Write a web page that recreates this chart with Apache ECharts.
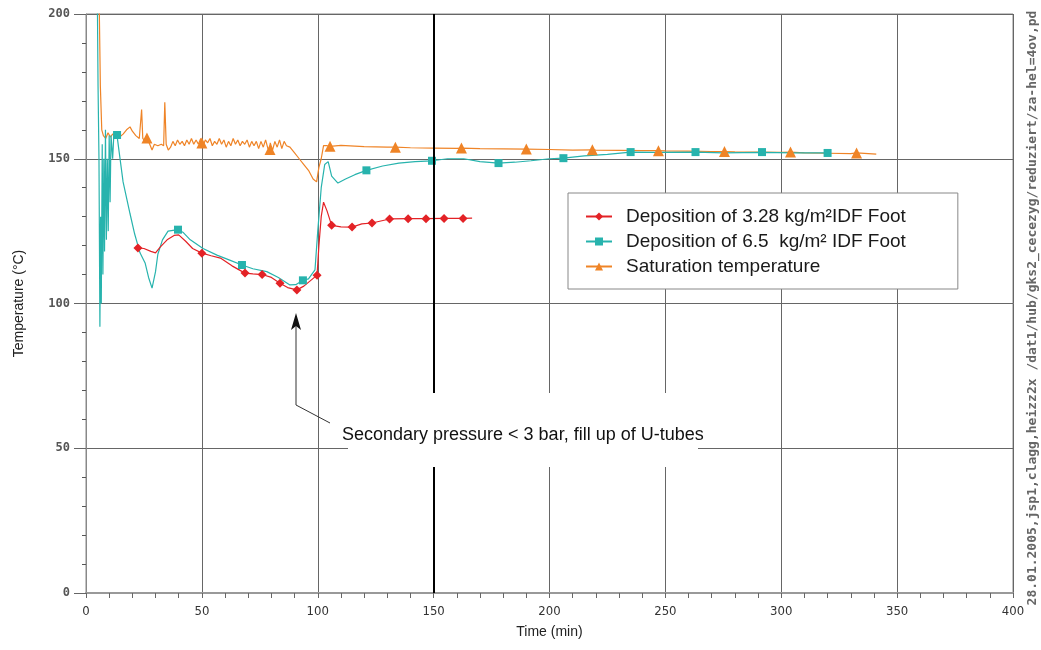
<!DOCTYPE html>
<html>
<head>
<meta charset="utf-8">
<script src="https://cdn.jsdelivr.net/npm/echarts@6/dist/echarts.min.js"></script>
<style>
  html, body { margin: 0; background: #fff; }
  #main { width: 1041px; height: 650px; }
</style>
</head>
<body>
<div id="main"></div>
<script>
// axis ticks
const xTicks = [0, 50, 100, 150, 200, 250, 300, 350, 400];
const yTicks = [0, 50, 100, 150, 200];

// Saturation temperature: line points [min, °C] and marker points
const satLine = [
  [5.5, 215], [6.2, 175], [6.8, 160], [7.5, 158], [8.5, 157], [9.5, 159], [10.5, 157.5], [11.5, 158.5],
  [13, 158], [14.5, 157.5], [16, 158.5], [17.5, 160], [19, 161], [20, 159.5], [21.5, 158], [23, 157],
  [24, 167], [24.5, 157], [25.5, 156], [26.5, 157.5], [27.5, 155], [28.5, 153], [29.5, 155], [31, 154.5],
  [32.5, 155], [33.5, 154.5], [34, 169.5], [34.6, 155], [35.5, 153], [36.5, 154], [37.5, 156], [38.5, 154.5],
  [39.5, 156.5], [40.5, 155], [41.5, 156], [42.5, 154.5], [43.5, 156.5], [44.5, 155], [45.5, 157], [46.5, 155],
  [47.5, 156.5], [48.5, 155], [49.5, 157], [50.5, 154.5], [51.5, 156.5], [52.5, 155.5], [53.5, 157],
  [54.5, 154.5], [55.5, 156], [56.5, 155], [57.5, 157], [58.5, 155], [59.5, 156.5], [60.5, 154],
  [61.5, 156], [62.5, 154.5], [63.5, 157], [64.5, 155], [65.5, 156.5], [66.5, 154.5], [67.5, 156],
  [68.5, 155], [69.5, 156.5], [70.5, 154], [71.5, 156], [72.5, 154.5], [73.5, 156], [74.5, 153.5],
  [75.5, 156], [76.5, 154], [77.5, 156.5], [78.5, 153.5], [79.5, 155.5], [80.5, 153], [81.5, 156],
  [82.5, 154], [83.5, 156.5], [84.5, 153.5], [85.5, 156], [86.5, 154.5], [88, 154],
  [90, 152], [92, 150], [94, 148], [96, 146], [98, 143], [99.5, 142], [100.5, 147], [101.5, 150],
  [102.5, 154.5], [104, 154.5], [110, 154.6], [120, 154.2], [130, 154], [140, 153.8], [150, 153.7],
  [160, 153.6], [170, 153.5], [180, 153.4], [190, 153.3], [200, 153.2], [210, 153], [220, 153],
  [230, 152.9], [240, 152.8], [250, 152.7], [260, 152.6], [270, 152.5], [280, 152.4], [290, 152.3],
  [300, 152.2], [310, 152], [320, 151.9], [330, 151.8], [341, 151.6]
];
const satMarks = [
  [26.3, 157.2], [50, 155.4], [79.4, 153.2], [105.3, 154.3], [133.5, 154], [162, 153.7], [190, 153.4],
  [218.5, 153.1], [247, 152.8], [275.5, 152.5], [304, 152.3], [332.5, 152]
];

// Deposition of 6.5 kg/m2
const tealLine = [
  [4.8, 215], [5.2, 175], [5.6, 150], [6.0, 92], [6.3, 130], [6.6, 100], [7.0, 155], [7.3, 110],
  [7.7, 150], [8.0, 118], [8.4, 160], [8.8, 122], [9.2, 150], [9.6, 125], [10.0, 158], [10.4, 135],
  [10.8, 158], [11.5, 150], [12, 158], [13.4, 158], [14.2, 153], [16, 142], [19, 131], [21, 124],
  [23.3, 117.5], [25.5, 114], [27, 109], [28.5, 105.3], [30, 111], [31, 117], [33, 122], [35.4, 125],
  [39.7, 125.5], [42, 124.5], [45, 122], [50.5, 119], [56.5, 116.7], [62, 115], [67.3, 113.3],
  [72, 112], [78, 111], [83, 109], [88, 106.4], [90.5, 106.5], [93.6, 108], [96, 108.5], [98.8, 111.6],
  [100, 125], [101.5, 140], [103, 148], [104.5, 149], [106, 144], [108.7, 141.6], [112, 143],
  [116, 144.5], [121, 146], [128, 147.5], [135, 148.5], [142, 149], [149.3, 149.3], [156, 150],
  [163, 150], [170, 149], [178, 148.5], [185, 148.8], [192, 149.3], [200, 150], [206, 150.2],
  [215, 151], [225, 151.5], [235, 152.3], [245, 152.2], [263, 152.3], [275, 152], [291.7, 152.2],
  [305, 152], [320, 152]
];
const tealMarks = [
  [13.4, 158.2], [39.7, 125.5], [67.3, 113.3], [93.6, 108], [121, 146], [149.3, 149.3], [178, 148.5],
  [206, 150.2], [235, 152.3], [263, 152.3], [291.7, 152.3], [320, 152]
];

// Deposition of 3.28 kg/m2
const redLine = [
  [22.4, 119.2], [25, 119], [28, 118], [30, 117.5], [32, 119.5], [35, 122], [38, 123.5], [40, 123.7],
  [43, 121.5], [46, 119], [50, 117.4], [54, 116.5], [58, 115.7], [63, 113], [68.6, 110.5], [72, 110.2],
  [76, 110], [80, 109], [83.7, 107], [87, 105.5], [91, 104.7], [94, 106], [97, 108], [99.7, 109.8],
  [100.5, 120], [101.5, 130], [102.5, 135], [104, 132], [106, 127], [110, 126.5], [114.8, 126.4],
  [119, 127.5], [123.4, 127.8], [131, 129.2], [139, 129.3], [146.7, 129.3], [154.5, 129.4],
  [162.7, 129.4], [166.6, 129.5]
];
const redMarks = [
  [22.4, 119.2], [50, 117.4], [68.6, 110.5], [76, 110], [83.7, 107], [91, 104.7], [99.7, 109.8],
  [106, 127], [114.8, 126.4], [123.4, 127.8], [131, 129.2], [139, 129.3], [146.7, 129.3],
  [154.5, 129.4], [162.7, 129.4]
];

const seriesNames = [
  'Deposition of 3.28 kg/m²IDF Foot',
  'Deposition of 6.5  kg/m² IDF Foot',
  'Saturation temperature'
];

// merge line points and marker points, marker points get a symbol
function buildData(line, marks, shape) {
  const pts = line.map(p => ({ value: p, symbol: 'none' }))
    .concat(marks.map(p => ({ value: p, symbol: shape })));
  pts.sort((a, b) => a.value[0] - b.value[0]);
  return pts;
}

function lineSeries(name, line, marks, shape, size, color) {
  return {
    name: name,
    type: 'line',
    data: buildData(line, marks, shape),
    symbol: shape,
    symbolSize: size,
    showAllSymbol: true,
    clip: true,
    lineStyle: { width: 1.2, color: color },
    itemStyle: { color: color },
    emphasis: { disabled: true }
  };
}

const myChart = echarts.init(document.getElementById('main'));

const sat = lineSeries(seriesNames[2], satLine, satMarks, 'triangle', 11, '#ef8427');
sat.markLine = {
  silent: true,
  symbol: 'none',
  label: { show: false },
  lineStyle: { color: '#000', width: 2, type: 'solid' },
  data: [{ xAxis: 150 }]
};

const option = {
  animation: false,
  grid: { left: 86, right: 28, top: 14, bottom: 57, show: true, borderColor: '#888', borderWidth: 1 },
  legend: {
    data: seriesNames,
    orient: 'vertical',
    left: 568,
    top: 193,
    padding: [14, 52, 13, 17],
    itemGap: 6,
    itemWidth: 26,
    itemHeight: 10,
    backgroundColor: '#fff',
    borderColor: '#888',
    borderWidth: 1,
    borderRadius: 0,
    textStyle: { fontFamily: 'Liberation Sans, Arial', fontSize: 19, color: '#1a1a1a', padding: [0, 0, 0, 9] }
  },
  xAxis: {
    type: 'value',
    min: xTicks[0],
    max: xTicks[xTicks.length - 1],
    interval: 50,
    name: 'Time (min)',
    nameLocation: 'middle',
    nameGap: 32,
    nameTextStyle: { fontFamily: 'Liberation Sans, Arial', fontSize: 14, color: '#222' },
    axisLine: { lineStyle: { color: '#999', width: 2 } },
    axisTick: { show: true, length: 5, lineStyle: { color: '#666' } },
    minorTick: { show: true, splitNumber: 5, length: 5, lineStyle: { color: '#666' } },
    axisLabel: { margin: 12, fontFamily: 'Liberation Sans Narrow, DejaVu Sans Condensed, Arial', fontSize: 13, color: '#333' },
    splitLine: { show: true, lineStyle: { color: '#666', width: 1 } }
  },
  yAxis: {
    type: 'value',
    min: yTicks[0],
    max: yTicks[yTicks.length - 1],
    interval: 50,
    name: 'Temperature (°C)',
    nameLocation: 'middle',
    nameGap: 60,
    nameTextStyle: { fontFamily: 'Liberation Sans, Arial', fontSize: 14, color: '#222' },
    axisLine: { show: true, lineStyle: { color: '#888', width: 1 } },
    axisTick: { show: true, length: 12, lineStyle: { color: '#666' } },
    minorTick: { show: true, splitNumber: 5, length: 4, lineStyle: { color: '#555' } },
    axisLabel: { margin: 16, fontFamily: 'DejaVu Sans Mono', fontWeight: 'bold', fontSize: 12, color: '#555' },
    splitLine: { show: true, lineStyle: { color: '#666', width: 1 } }
  },
  series: [
    sat,
    lineSeries(seriesNames[1], tealLine, tealMarks, 'rect', 8, '#27b3ad'),
    lineSeries(seriesNames[0], redLine, redMarks, 'diamond', 9, '#e32226')
  ],
  graphic: [
    { type: 'rect', shape: { x: 348, y: 393, width: 350, height: 74 }, style: { fill: '#fff' }, z: 50 },
    {
      type: 'text', x: 342, y: 435, z: 51,
      style: { text: 'Secondary pressure < 3 bar, fill up of U-tubes', fontFamily: 'Liberation Sans, Arial', fontSize: 18, fill: '#111', verticalAlign: 'middle' }
    },
    { type: 'polyline', shape: { points: [[296, 326], [296, 405], [330, 423]] }, style: { stroke: '#333', lineWidth: 1, fill: null }, z: 51 },
    { type: 'polygon', shape: { points: [[296, 313], [291, 330], [296, 326], [301, 330]] }, style: { fill: '#111' }, z: 51 },
    {
      type: 'text', x: 1033, y: 308, rotation: Math.PI / 2, z: 51,
      style: {
        text: '28.01.2005,jsp1,clagg,heizz2x /dat1/hub/gks2_cecezyg/reduziert/za-hel=4ov,pd',
        fontFamily: 'DejaVu Sans Mono', fontWeight: 'bold', fontSize: 13, fill: '#666',
        align: 'center', verticalAlign: 'middle'
      }
    }
  ]
};

myChart.setOption(option);
</script>
</body>
</html>
